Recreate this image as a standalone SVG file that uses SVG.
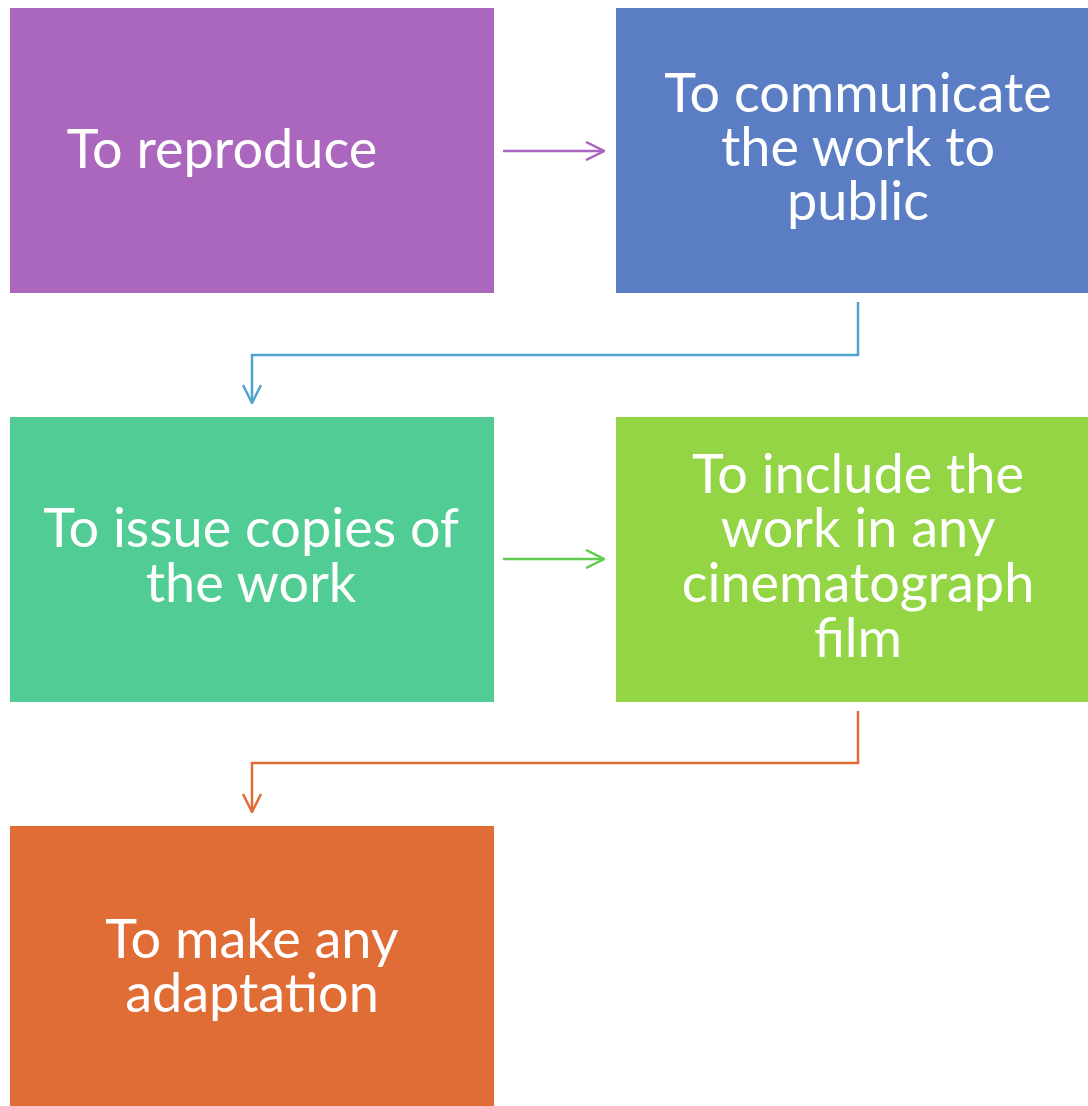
<svg xmlns="http://www.w3.org/2000/svg" width="1088" height="1106" viewBox="0 0 1088 1106">
<defs>
<style>
.lbl{font-family:Lato,"Open Sans","DejaVu Sans",sans-serif;font-size:54px;fill:#FFFFFF;text-anchor:middle}
.conn{fill:none;stroke-width:2.5}
</style>
<marker id="mP" viewBox="0 0 20 20" refX="19" refY="10" markerWidth="20" markerHeight="20" markerUnits="userSpaceOnUse" orient="auto"><path d="M1,1 L19,10 L1,19" fill="none" stroke="#A966BE" stroke-width="2.5"/></marker>
<marker id="mB" viewBox="0 0 20 20" refX="19" refY="10" markerWidth="20" markerHeight="20" markerUnits="userSpaceOnUse" orient="auto"><path d="M1,1 L19,10 L1,19" fill="none" stroke="#4EA3CE" stroke-width="2.5"/></marker>
<marker id="mG" viewBox="0 0 20 20" refX="19" refY="10" markerWidth="20" markerHeight="20" markerUnits="userSpaceOnUse" orient="auto"><path d="M1,1 L19,10 L1,19" fill="none" stroke="#62CC4E" stroke-width="2.5"/></marker>
<marker id="mO" viewBox="0 0 20 20" refX="19" refY="10" markerWidth="20" markerHeight="20" markerUnits="userSpaceOnUse" orient="auto"><path d="M1,1 L19,10 L1,19" fill="none" stroke="#E06C36" stroke-width="2.5"/></marker>
</defs>
<rect width="1088" height="1106" fill="#FFFFFF"/>
<g id="connectors">
<path class="conn" d="M503,151 H604" stroke="#A966BE" marker-end="url(#mP)"/>
<path class="conn" d="M858,302 V355 H252 V403" stroke="#4EA3CE" marker-end="url(#mB)"/>
<path class="conn" d="M503,559 H604" stroke="#62CC4E" marker-end="url(#mG)"/>
<path class="conn" d="M858,711 V763 H252 V812" stroke="#E06C36" marker-end="url(#mO)"/>
</g>
<g id="node1">
<rect x="10" y="8" width="484" height="285" fill="#AB67BD"/>
<text class="lbl" x="222" y="168">To reproduce</text>
</g>
<g id="node2">
<rect x="616" y="8" width="472" height="285" fill="#5B7DC4"/>
<text class="lbl" x="858" y="112">To communicate</text>
<text class="lbl" x="858" y="166">the work to</text>
<text class="lbl" x="858" y="220">public</text>
</g>
<g id="node3">
<rect x="10" y="417" width="484" height="285" fill="#50CC94"/>
<text class="lbl" x="251" y="547">To issue copies of</text>
<text class="lbl" x="251" y="602">the work</text>
</g>
<g id="node4">
<rect x="616" y="417" width="472" height="285" fill="#94D546"/>
<text class="lbl" x="858" y="493">To include the</text>
<text class="lbl" x="858" y="547">work in any</text>
<text class="lbl" x="858" y="602">cinematograph</text>
<text class="lbl" x="858" y="657">film</text>
</g>
<g id="node5">
<rect x="10" y="826" width="484" height="280" fill="#E06C36"/>
<text class="lbl" x="252" y="958">To make any</text>
<text class="lbl" x="252" y="1012">adaptation</text>
</g>
</svg>
